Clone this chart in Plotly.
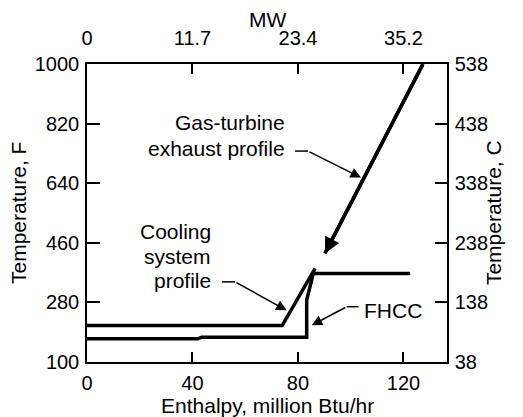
import plotly.graph_objects as go

# ---- data ----
# enthalpy in million Btu/hr, temperature in F
cooling_x = [0, 74, 86.5]
cooling_F = [210, 210, 383]

fhcc_x = [0, 42, 43.5, 83.3, 83.3, 85.8, 122.5]
fhcc_F = [170, 170, 175, 175, 287, 367, 367]

gas_x = [127.4, 90.2]
gas_F = [1000, 428]

# axes
x_range = [0, 136.5]
y_range = [100, 1000]
x_ticks = [0, 40, 80, 120]
x_ticklabels = ["0", "40", "80", "120"]
mw_ticklabels = ["0", "11.7", "23.4", "35.2"]
y_ticks = [100, 280, 460, 640, 820, 1000]
y_ticklabels = ["100", "280", "460", "640", "820", "1000"]
c_ticklabels = ["38", "138", "238", "338", "438", "538"]

FONT = "Liberation Sans, Arial, Helvetica, sans-serif"
LW = 3.5

fig = go.Figure()
for xs, ys in [(cooling_x, cooling_F), (fhcc_x, fhcc_F), (gas_x, gas_F)]:
    fig.add_trace(go.Scatter(x=xs, y=ys, mode="lines",
                             line=dict(color="black", width=LW),
                             showlegend=False, hoverinfo="skip"))
# invisible trace to activate secondary axes
fig.add_trace(go.Scatter(x=[None], y=[None], xaxis="x2", yaxis="y2",
                         mode="lines", showlegend=False, hoverinfo="skip"))

axis_common = dict(showline=True, linecolor="black", linewidth=1.5,
                   ticks="inside", tickcolor="black", tickwidth=1.5,
                   showgrid=False, zeroline=False,
                   tickfont=dict(family=FONT, size=20, color="black"))

fig.update_layout(
    width=523, height=417,
    margin=dict(l=87, r=76, t=64, b=55),
    paper_bgcolor="white", plot_bgcolor="white",
    font=dict(family=FONT, size=20, color="black"),
    xaxis=dict(range=x_range, tickmode="array", tickvals=x_ticks,
               ticktext=x_ticklabels, ticklen=10, ticklabelstandoff=2,
               **axis_common),
    yaxis=dict(range=y_range, tickmode="array", tickvals=y_ticks,
               ticktext=y_ticklabels, ticklen=13, ticklabelstandoff=2,
               **axis_common),
    xaxis2=dict(range=x_range, tickmode="array", tickvals=x_ticks,
                ticktext=mw_ticklabels, ticklen=10, overlaying="x",
                side="top", anchor="y", ticklabelstandoff=9, **axis_common),
    yaxis2=dict(range=y_range, tickmode="array", tickvals=y_ticks,
                ticktext=c_ticklabels, ticklen=12, overlaying="y",
                side="right", anchor="x", ticklabelstandoff=2, **axis_common),
)

TF = dict(family=FONT, size=21, color="black")
# axis titles
fig.add_annotation(text="Temperature, F", xref="paper", yref="paper",
                   x=-0.1917, y=0.5, textangle=-90, showarrow=False,
                   xanchor="center", yanchor="middle", font=TF)
fig.add_annotation(text="Temperature, C", xref="paper", yref="paper",
                   x=1.128, y=0.5, textangle=-90, showarrow=False,
                   xanchor="center", yanchor="middle", font=TF)
fig.add_annotation(text="MW", xref="paper", yref="paper",
                   x=0.5, y=1.151, showarrow=False,
                   xanchor="center", yanchor="middle", font=TF)
fig.add_annotation(text="Enthalpy, million Btu/hr", xref="paper", yref="paper",
                   x=0.5, y=-0.146, showarrow=False,
                   xanchor="center", yanchor="middle", font=TF)

# labels
for txt, xx, yy, anc in [("Gas-turbine", 75.7, 822, "right"),
                         ("exhaust profile", 75.7, 746, "right"),
                         ("Cooling", 47.8, 493, "right"),
                         ("system", 47.8, 418, "right"),
                         ("profile", 47.8, 347, "right"),
                         ("FHCC", 104.2, 257, "left")]:
    fig.add_annotation(text=txt, x=xx, y=yy, xref="x", yref="y",
                       showarrow=False, xanchor=anc, yanchor="middle", font=TF)

# leader lines (horizontal stubs)
for x0, x1, yy in [(78.9, 83.8, 737), (51.2, 56.1, 342), (98.5, 102.9, 267)]:
    fig.add_shape(type="line", xref="x", yref="y", x0=x0, x1=x1, y0=yy, y1=yy,
                  line=dict(color="black", width=1.5))

# thin pointer arrows: tip (x,y), tail (ax,ay)
for tx, ty, sx, sy in [(103.9, 657, 83.8, 737),
                       (75.7, 256, 56.1, 342),
                       (85.2, 211, 98.5, 267)]:
    fig.add_annotation(x=tx, y=ty, ax=sx, ay=sy, xref="x", yref="y",
                       axref="x", ayref="y", text="", showarrow=True,
                       arrowhead=2, arrowsize=1.4, arrowwidth=1.5,
                       arrowcolor="black", standoff=0)

# arrowhead at end of gas-turbine profile
fig.add_annotation(x=gas_x[-1], y=gas_F[-1], ax=gas_x[0], ay=gas_F[0],
                   xref="x", yref="y", axref="x", ayref="y", text="",
                   showarrow=True, arrowhead=2, arrowsize=0.9, arrowwidth=LW,
                   arrowcolor="black", standoff=0)

fig.write_html("out.html",
               config={"displayModeBar": False},
               post_script="document.body.style.margin='0';"
                           "document.body.style.padding='0';")
